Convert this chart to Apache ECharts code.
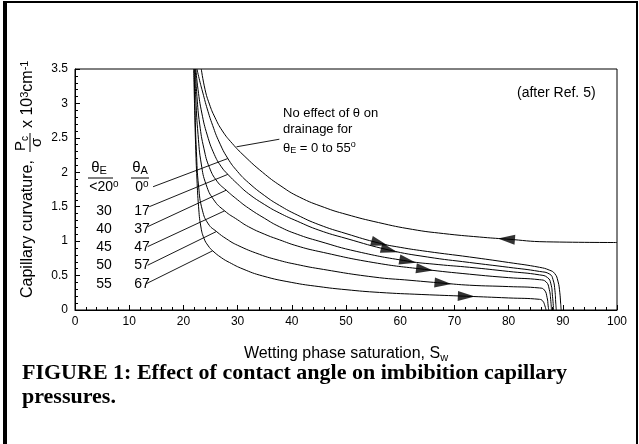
<!DOCTYPE html>
<html><head><meta charset="utf-8">
<script src="https://cdn.jsdelivr.net/npm/echarts@6/dist/echarts.min.js"></script>
<style>html,body{margin:0;padding:0;background:#fff}#c{width:639px;height:444px}</style>
</head><body><div id="c"></div>
<script>
// ---- data ----
const xTicks = [0, 10, 20, 30, 40, 50, 60, 70, 80, 90, 100];
const yTicks = [0, 0.5, 1, 1.5, 2, 2.5, 3, 3.5];

const drainage = [[23.3,3.5],[24.0,3.2],[24.8,2.99],[25.8,2.8],[27.2,2.6],[29.0,2.42],[31.2,2.24],[34.6,2.0],[38,1.8],[41.4,1.64],[46,1.49],[50,1.39],[56,1.27],[62.3,1.17],[68,1.11],[74.6,1.06],[79.6,1.03],[87,0.99],[100,0.98]];

const imbA0  = [[22.5,3.5],[23.0,3.33],[23.6,3.15],[24.4,2.92],[25.4,2.68],[26.6,2.44],[28.2,2.2],[30,2.01],[32,1.85],[35,1.66],[37.7,1.52],[41,1.38],[45,1.24],[50,1.11],[56.2,0.97],[60,0.91],[65,0.85],[72.8,0.77],[80,0.69],[85.7,0.62],[87.5,0.58],[88.5,0.53],[89.1,0.42],[89.45,0.25],[89.6,0.1],[89.7,0]];
const imbA17 = [[22.3,3.5],[22.7,3.2],[23.4,2.86],[24.4,2.54],[25.7,2.26],[27.0,2.08],[28.2,1.97],[30,1.83],[32,1.69],[35,1.53],[37.7,1.41],[41,1.29],[45,1.16],[50,1.04],[58,0.87],[65,0.77],[72.8,0.69],[80,0.62],[85.7,0.56],[87.6,0.52],[88.2,0.44],[88.55,0.28],[88.7,0.1],[88.8,0]];
const imbA37 = [[22.2,3.5],[22.5,3.1],[23.0,2.7],[23.8,2.34],[24.8,2.07],[26.2,1.87],[27.9,1.74],[30,1.6],[32,1.48],[35,1.33],[37.7,1.21],[41,1.10],[45,1.00],[52,0.85],[61.4,0.71],[67,0.66],[72.8,0.62],[80,0.56],[85.7,0.51],[87.2,0.47],[87.8,0.38],[88.1,0.2],[88.3,0]];
const imbA47 = [[22.1,3.5],[22.3,3.05],[22.7,2.55],[23.3,2.12],[24.2,1.82],[25.6,1.6],[27.6,1.44],[30,1.31],[32,1.21],[35,1.10],[37.7,1.02],[41,0.93],[45,0.85],[55,0.69],[64.5,0.59],[72.8,0.52],[80,0.47],[85.7,0.44],[86.9,0.41],[87.5,0.3],[87.8,0.12],[87.9,0]];
const imbA57 = [[22.0,3.5],[22.15,2.9],[22.4,2.3],[22.8,1.8],[23.5,1.45],[24.6,1.25],[26.1,1.14],[28,1.03],[30,0.94],[34,0.81],[37.7,0.72],[41,0.66],[45,0.60],[55,0.48],[62,0.43],[67.9,0.39],[72.8,0.36],[80,0.34],[85.7,0.32],[86.6,0.29],[87.1,0.18],[87.3,0.06],[87.4,0]];
const imbA67 = [[21.9,3.5],[22.05,3.0],[22.25,2.4],[22.5,1.9],[22.8,1.5],[23.2,1.22],[23.8,1.04],[24.6,0.93],[25.4,0.86],[27,0.76],[28.5,0.69],[31,0.595],[34.6,0.495],[40,0.40],[45,0.34],[50,0.295],[56.2,0.255],[64,0.225],[72.2,0.2],[80,0.175],[85.7,0.155],[86.3,0.13],[86.7,0.06],[86.9,0]];

const thetaE = ['<20{sup|o}', '30', '40', '45', '50', '55'];
const thetaA = ['0{sup|o}', '17', '37', '47', '57', '67'];
const leaderStarts = [[14.4,1.79],[13.7,1.50],[13.4,1.21],[13.4,0.92],[13.4,0.65],[13.1,0.38]];
const leaderEnds   = [[28.2,2.20],[28.2,1.97],[27.9,1.74],[27.6,1.44],[26.1,1.14],[25.4,0.86]];
const drainLeader  = [[37.7,2.48],[29.8,2.37]];
const imbArrows    = [[56.2,0.97],[58,0.87],[61.4,0.71],[64.5,0.59],[67.9,0.39],[72.2,0.2]];
const drainArrow   = [79.6,1.03];

// ---- chart ----
const imbCurves = [imbA0, imbA17, imbA37, imbA47, imbA57, imbA67];
const FONT = 'Liberation Sans, Arial, Helvetica, sans-serif';
const chart = echarts.init(document.getElementById('c'), null, {renderer: 'canvas'});

function rtext(x, y, text, size, align, extra) {
  const subSize = Math.round(size * 0.7);
  const rich = {
    m:   {fontSize: size, lineHeight: Math.round(size * 1.12), fontFamily: FONT, fill: '#000'},
    sub: {fontSize: subSize, lineHeight: subSize, padding: [Math.round(size * 0.6), 0, 0, 0], verticalAlign: 'bottom', fontFamily: FONT, fill: '#000'},
    sup: {fontSize: Math.round(size * 0.68), lineHeight: Math.round(size * 0.68), verticalAlign: 'top', fontFamily: FONT, fill: '#000'}
  };
  return Object.assign({type: 'text', x: x, y: y, silent: true,
    style: {text: text, rich: rich, fontSize: size, fontFamily: FONT, fill: '#000', align: align || 'left', verticalAlign: 'middle'}}, extra || {});
}
function wrapM(s) {
  return s.split(/(\{[^}]*\})/).map(p => p.startsWith('{') ? p : (p ? '{m|' + p + '}' : '')).join('');
}

const series = [];
const curveStyle = {type: 'line', symbol: 'none', smooth: 0.5, lineStyle: {color: '#000', width: 1}, silent: true};
series.push(Object.assign({data: drainage}, curveStyle));
imbCurves.forEach(c => series.push(Object.assign({data: c}, curveStyle)));
leaderStarts.forEach((s, i) => series.push({type: 'line', data: [s, leaderEnds[i]], symbol: 'none',
  lineStyle: {color: '#000', width: 0.9}, silent: true}));
series.push({type: 'line', data: drainLeader, symbol: 'none', lineStyle: {color: '#000', width: 0.9}, silent: true});

const graphics = [];
// frame
graphics.push({type: 'rect', shape: {x: 3, y: 1, width: 4, height: 443}, style: {fill: '#000'}, silent: true});
graphics.push({type: 'rect', shape: {x: 3, y: 1, width: 635, height: 2}, style: {fill: '#000'}, silent: true});
graphics.push({type: 'rect', shape: {x: 636, y: 1, width: 2, height: 443}, style: {fill: '#000'}, silent: true});
// y-axis title (rotated group)
graphics.push({type: 'group', x: 28, y: 186, rotation: Math.PI / 2, silent: true, children: [
  {type: 'text', x: -112, y: 0, style: {text: 'Capillary curvature,', fontSize: 16, fontFamily: FONT, fill: '#000', align: 'left', verticalAlign: 'middle'}},
  {type: 'text', x: 35, y: -7, style: {text: 'P', fontSize: 15, fontFamily: FONT, fill: '#000', align: 'left', verticalAlign: 'middle'}},
  {type: 'text', x: 45, y: -3, style: {text: 'c', fontSize: 10, fontFamily: FONT, fill: '#000', align: 'left', verticalAlign: 'middle'}},
  {type: 'line', shape: {x1: 34, y1: 2, x2: 53, y2: 2}, style: {stroke: '#000', lineWidth: 1}},
  {type: 'text', x: 39, y: 9, style: {text: 'σ', fontSize: 15, fontFamily: FONT, fill: '#000', align: 'left', verticalAlign: 'middle'}},
  rtext(58, 0, wrapM('x 10{sup|3}cm{sup|-1}'), 16, 'left')
]});
// x-axis title
graphics.push(rtext(346, 354, wrapM('Wetting phase saturation, S{sub|w}'), 16, 'center'));
// annotations
graphics.push(rtext(517, 93, wrapM('(after Ref. 5)'), 14, 'left'));
graphics.push(rtext(283, 113, wrapM('No effect of θ on'), 13, 'left'));
graphics.push(rtext(283, 129, wrapM('drainage for'), 13, 'left'));
graphics.push(rtext(283, 148, wrapM('θ{sub|E} = 0 to 55{sup|o}'), 13, 'left'));
// label table
graphics.push(rtext(99, 168, wrapM('θ{sub|E}'), 15, 'center'));
graphics.push(rtext(140, 168, wrapM('θ{sub|A}'), 15, 'center'));
graphics.push({type: 'line', shape: {x1: 88, y1: 178, x2: 113, y2: 178}, style: {stroke: '#000', lineWidth: 1}, silent: true});
graphics.push({type: 'line', shape: {x1: 131, y1: 178, x2: 149, y2: 178}, style: {stroke: '#000', lineWidth: 1}, silent: true});
const rowY = [187, 211, 229, 247, 265, 284];
thetaE.forEach((t, i) => graphics.push(rtext(104, rowY[i], wrapM(t), 14, 'center')));
thetaA.forEach((t, i) => graphics.push(rtext(142, rowY[i], wrapM(t), 14, 'center')));
// caption
const capFont = 'Liberation Serif, Times New Roman, serif';
graphics.push({type: 'text', x: 22, y: 373, silent: true, style: {text: 'FIGURE 1: Effect of contact angle on imbibition capillary', fontSize: 22, fontWeight: 'bold', fontFamily: capFont, fill: '#000', align: 'left', verticalAlign: 'middle'}});
graphics.push({type: 'text', x: 22, y: 397, silent: true, style: {text: 'pressures.', fontSize: 22, fontWeight: 'bold', fontFamily: capFont, fill: '#000', align: 'left', verticalAlign: 'middle'}});

const axisCommon = {
  axisLine: {show: true, lineStyle: {color: '#000', width: 1}},
  axisTick: {show: true, inside: true, length: 5, lineStyle: {color: '#000', width: 1}},
  minorTick: {show: true, splitNumber: 5, length: 3, lineStyle: {color: '#000', width: 1}},
  splitLine: {show: false},
  minorSplitLine: {show: false},
  axisLabel: {color: '#000', fontSize: 12, fontFamily: FONT}
};

const option = {
  animation: false,
  backgroundColor: '#fff',
  grid: {left: 75, right: 22, top: 69, bottom: 134, show: true, borderColor: '#000', borderWidth: 1, containLabel: false},
  xAxis: Object.assign({type: 'value', min: xTicks[0], max: xTicks[xTicks.length - 1], interval: 10}, axisCommon,
    {axisLabel: Object.assign({}, axisCommon.axisLabel, {margin: 6})}),
  yAxis: Object.assign({type: 'value', min: yTicks[0], max: yTicks[yTicks.length - 1], interval: 0.5}, axisCommon,
    {axisLabel: Object.assign({}, axisCommon.axisLabel, {margin: 7})}),
  series: series,
  graphic: graphics
};
chart.setOption(option);

// arrows, oriented along their curve using the chart's own scales
function rotFor(curve, pt, dir) {
  let i = curve.findIndex(p => p[0] >= pt[0]);
  if (i < 1) i = 1;
  const a = chart.convertToPixel({gridIndex: 0}, curve[i - 1]);
  const b = chart.convertToPixel({gridIndex: 0}, curve[i]);
  const dx = (b[0] - a[0]) * dir, dy = (b[1] - a[1]) * dir;
  return Math.atan2(-dx, -dy) * 180 / Math.PI;
}
const arrowData = imbArrows.map((p, i) => ({value: p, symbolRotate: rotFor(imbCurves[i], p, 1)}));
arrowData.push({value: drainArrow, symbolRotate: rotFor(drainage, drainArrow, -1)});
series.push({type: 'scatter', data: arrowData, symbol: 'triangle', symbolSize: [10, 17],
  itemStyle: {color: '#000'}, silent: true, z: 5});
chart.setOption({series: series});
</script>
</body></html>
